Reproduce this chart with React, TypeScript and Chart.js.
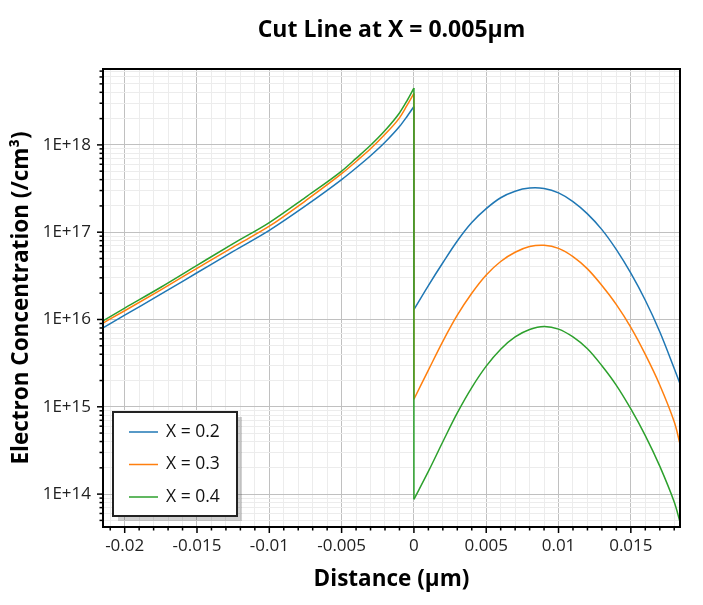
import React, { useEffect, useRef } from "react";
import { Chart, registerables } from "chart.js";
Chart.register(...registerables);

const TITLE = "Cut Line at X = 0.005µm";
const X_TITLE = "Distance (µm)";
const Y_TITLE = "Electron Concentration (/cm³)";

const seriesLabels = ["X = 0.2", "X = 0.3", "X = 0.4"];
const seriesColors = ["#1f77b4", "#ff7f0e", "#2ca02c"];

// Distance (µm), left side of the junction
const distLeft = [-0.0215, -0.02, -0.0175, -0.015, -0.0125, -0.01, -0.0075, -0.005, -0.004, -0.003, -0.002, -0.001, -0.0005, 0];
// Distance (µm), right side of the junction
const distRight = [0, 0.001, 0.002, 0.003, 0.004, 0.005, 0.006, 0.007, 0.008, 0.009, 0.01, 0.011, 0.012, 0.013, 0.014, 0.015, 0.016, 0.017, 0.018, 0.0184];

// Electron concentration (/cm3)
const x02Left = [8.0e15, 1.12e16, 1.95e16, 3.43e16, 6.03e16, 1.05e17, 2.0e17, 4.0e17, 5.43e17, 7.50e17, 1.07e18, 1.62e18, 2.09e18, 2.75e18];
const x03Left = [9.1e15, 1.26e16, 2.19e16, 3.85e16, 6.76e16, 1.17e17, 2.29e17, 4.68e17, 6.46e17, 9.02e17, 1.32e18, 2.04e18, 2.79e18, 3.89e18];
const x04Left = [9.66e15, 1.35e16, 2.34e16, 4.17e16, 7.41e16, 1.29e17, 2.51e17, 5.01e17, 7.0e17, 9.89e17, 1.46e18, 2.32e18, 3.16e18, 4.47e18];

const x02Right = [1.30e16, 2.45e16, 4.47e16, 7.94e16, 1.29e17, 1.86e17, 2.48e17, 2.95e17, 3.20e17, 3.16e17, 2.82e17, 2.24e17, 1.62e17, 1.07e17, 6.31e16, 3.39e16, 1.66e16, 7.24e15, 2.75e15, 1.84e15];
const x03Right = [1.22e15, 2.63e15, 5.62e15, 1.12e16, 2.0e16, 3.24e16, 4.62e16, 5.89e16, 6.84e16, 7.08e16, 6.53e16, 5.25e16, 3.80e16, 2.45e16, 1.48e16, 8.13e15, 3.98e15, 1.78e15, 6.76e14, 3.76e14];
const x04Right = [8.71e13, 1.82e14, 3.98e14, 8.51e14, 1.66e15, 2.92e15, 4.57e15, 6.31e15, 7.67e15, 8.32e15, 7.76e15, 6.31e15, 4.62e15, 2.95e15, 1.76e15, 9.44e14, 4.68e14, 2.09e14, 8.13e13, 4.79e13];

const xMajorTicks = [-0.02, -0.015, -0.01, -0.005, 0, 0.005, 0.01, 0.015];
const xTickLabels = ["-0.02", "-0.015", "-0.01", "-0.005", "0", "0.005", "0.01", "0.015"];
const yMajorTicks = [1e14, 1e15, 1e16, 1e17, 1e18];
const yTickLabels = ["1E+14", "1E+15", "1E+16", "1E+17", "1E+18"];

const X_MIN = -0.0215;
const X_MAX = 0.0184;
const Y_MIN = 4.2e13;
const Y_MAX = 7.4e18;

const FONT = "'Open Sans', 'Noto Sans', sans-serif";

const leftSeries = [x02Left, x03Left, x04Left];
const rightSeries = [x02Right, x03Right, x04Right];

function xMajorIndex(v: number) {
  return xMajorTicks.findIndex((t) => Math.abs(t - v) < 1e-9);
}
function yMajorIndex(v: number) {
  return yMajorTicks.findIndex((t) => Math.abs(t - v) / t < 1e-6);
}

const framePlugin = {
  id: "frameAndDecor",
  afterDatasetsDraw(chart: any) {
    const { ctx, chartArea } = chart;
    const xs = chart.scales.x;
    const ys = chart.scales.y;
    ctx.save();
    // ticks
    ctx.strokeStyle = "#000";
    ctx.lineWidth = 1.5;
    xs.ticks.forEach((t: any) => {
      const px = xs.getPixelForValue(t.value);
      const len = xMajorIndex(t.value) >= 0 ? 6 : 3.5;
      ctx.beginPath();
      ctx.moveTo(px, chartArea.bottom);
      ctx.lineTo(px, chartArea.bottom + len);
      ctx.stroke();
    });
    ys.ticks.forEach((t: any) => {
      const py = ys.getPixelForValue(t.value);
      const len = yMajorIndex(t.value) >= 0 ? 6 : 3.5;
      ctx.beginPath();
      ctx.moveTo(chartArea.left, py);
      ctx.lineTo(chartArea.left - len, py);
      ctx.stroke();
    });
    // frame
    ctx.lineWidth = 2;
    ctx.strokeRect(chartArea.left, chartArea.top, chartArea.right - chartArea.left, chartArea.bottom - chartArea.top);
    // title
    ctx.fillStyle = "#000";
    ctx.font = `bold 23px ${FONT}`;
    ctx.textAlign = "center";
    ctx.textBaseline = "middle";
    ctx.fillText(TITLE, (chartArea.left + chartArea.right) / 2, 22);
    // legend
    const lx = chartArea.left + 10;
    const ly = 404;
    const lw = 124;
    const lh = 104;
    ctx.fillStyle = "rgba(0,0,0,0.18)";
    ctx.fillRect(lx + 5, ly + 5, lw, lh);
    ctx.fillStyle = "#fff";
    ctx.fillRect(lx, ly, lw, lh);
    ctx.strokeStyle = "#222";
    ctx.lineWidth = 2;
    ctx.strokeRect(lx, ly, lw, lh);
    ctx.font = `17.5px ${FONT}`;
    ctx.textAlign = "left";
    seriesLabels.forEach((label, i) => {
      const yy = ly + 20 + i * 32.5;
      ctx.strokeStyle = seriesColors[i];
      ctx.lineWidth = 1.5;
      ctx.beginPath();
      ctx.moveTo(lx + 16, yy);
      ctx.lineTo(lx + 45, yy);
      ctx.stroke();
      ctx.fillStyle = "#111";
      ctx.fillText(label, lx + 53, yy);
    });
    ctx.restore();
  },
};

export default function App() {
  const ref = useRef<HTMLCanvasElement | null>(null);
  useEffect(() => {
    if (!ref.current) return;
    const datasets: any[] = [];
    seriesLabels.forEach((label, i) => {
      const common = {
        label,
        borderColor: seriesColors[i],
        backgroundColor: seriesColors[i],
        borderWidth: 1.5,
        pointRadius: 0,
        fill: false,
        order: 2 - i,
      };
      const left = distLeft.map((x, j) => ({ x, y: leftSeries[i][j] }));
      const right = distRight.map((x, j) => ({ x, y: rightSeries[i][j] }));
      datasets.push({ ...common, data: left, cubicInterpolationMode: "monotone" });
      datasets.push({ ...common, data: [left[left.length - 1], right[0]], tension: 0 });
      datasets.push({ ...common, data: right, tension: 0.35 });
    });
    const chart = new Chart(ref.current, {
      type: "line",
      data: { datasets },
      plugins: [framePlugin],
      options: {
        animation: false,
        responsive: true,
        maintainAspectRatio: false,
        layout: { padding: { top: 61, right: 15, left: 0, bottom: 0 } },
        plugins: { legend: { display: false }, title: { display: false }, tooltip: { enabled: false } },
        scales: {
          x: {
            type: "linear",
            min: X_MIN,
            max: X_MAX,
            afterBuildTicks: (scale: any) => {
              const t = [];
              for (let k = -21; k <= 18; k++) t.push({ value: k / 1000 });
              scale.ticks = t;
            },
            afterFit: (scale: any) => {
              scale.height = 70;
            },
            ticks: {
              autoSkip: false,
              maxRotation: 0,
              minRotation: 0,
              padding: 9,
              color: "#222",
              font: { family: FONT, size: 17 },
              callback: (v: any) => {
                const i = xMajorIndex(Number(v));
                return i >= 0 ? xTickLabels[i] : "";
              },
            },
            grid: {
              drawTicks: false,
              color: (c: any) => (c.tick && xMajorIndex(c.tick.value) >= 0 ? "#c0c0c0" : "#ececec"),
              lineWidth: 1,
            },
            border: { display: false },
            title: {
              display: true,
              text: X_TITLE,
              color: "#000",
              font: { family: FONT, size: 22.5, weight: "bold" },
              padding: { top: 2, bottom: 3.5 },
            },
          },
          y: {
            type: "logarithmic",
            min: Y_MIN,
            max: Y_MAX,
            afterBuildTicks: (scale: any) => {
              const t = [];
              for (let n = 13; n <= 18; n++) {
                for (let k = 1; k <= 9; k++) {
                  const v = k * Math.pow(10, n);
                  if (v >= Y_MIN && v <= Y_MAX) t.push({ value: v });
                }
              }
              scale.ticks = t;
            },
            afterFit: (scale: any) => {
              scale.width = 95;
            },
            ticks: {
              autoSkip: false,
              padding: 12,
              color: "#222",
              font: { family: FONT, size: 17 },
              callback: (v: any) => {
                const i = yMajorIndex(Number(v));
                return i >= 0 ? yTickLabels[i] : "";
              },
            },
            grid: {
              drawTicks: false,
              color: (c: any) => (c.tick && yMajorIndex(c.tick.value) >= 0 ? "#c0c0c0" : "#ececec"),
              lineWidth: 1,
            },
            border: { display: false },
            title: {
              display: true,
              text: Y_TITLE,
              color: "#000",
              font: { family: FONT, size: 22.5, weight: "bold" },
              padding: { top: 0.5, bottom: 0 },
            },
          },
        },
      } as any,
    });
    return () => chart.destroy();
  }, []);
  return (
    <div style={{ width: 687, height: 589, position: "relative" }}>
      <canvas ref={ref} />
    </div>
  );
}
